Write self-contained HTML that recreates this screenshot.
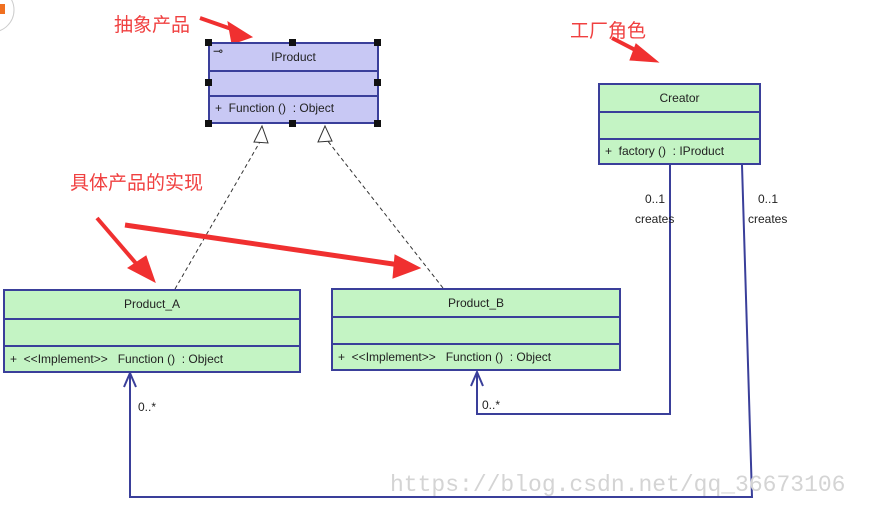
<!DOCTYPE html>
<html><head><meta charset="utf-8"><style>
body{margin:0;background:#fff;width:875px;height:513px;overflow:hidden;position:relative;font-family:"Liberation Sans",sans-serif}
.b{position:absolute;border:2px solid #3a3f9a;box-sizing:border-box;font-size:12px;color:#222}
.b div{box-sizing:border-box;border-bottom:2px solid #3a3f9a}
.b div:last-child{border-bottom:none}
.cn{position:absolute;font-family:"Liberation Sans","Noto Sans CJK SC",sans-serif;color:#f04040;font-size:19px}
.t{position:absolute;font-size:12px;color:#222}
.h{position:absolute;width:7px;height:7px;background:#111}
</style></head><body>
<svg width="875" height="513" style="position:absolute;left:0;top:0">
<circle cx="-8" cy="10" r="22" fill="#fff" stroke="#ccc"/>
<rect x="0" y="4" width="5" height="10" fill="#f07020"/>
<g stroke="#333" stroke-dasharray="4,3" fill="none">
<line x1="175" y1="289" x2="261" y2="140"/>
<line x1="443" y1="288" x2="327" y2="140"/>
</g>
<polygon points="262,126 254,142 268,143" fill="#fff" stroke="#333"/>
<polygon points="325,126 318,142 332,141" fill="#fff" stroke="#333"/>
<g stroke="#3a3f9a" stroke-width="2" fill="none">
<polyline points="670,165 670,414 477,414 477,372"/>
<polyline points="471,386 477,372 483,386"/>
<polyline points="742,165 752,497 130,497 130,373"/>
<polyline points="124,387 130,373 136,387"/>
</g>
<g fill="#f03030" stroke="#f03030">
<polyline points="200,18 240,32" stroke-width="4"/><polygon points="252,37 228,22 232,44"/>
<polyline points="612,38 645,55" stroke-width="4"/><polygon points="658,62 636,44 630,60"/>
<polyline points="97,218 140,268" stroke-width="4"/><polygon points="155,282 128,268 146,256"/>
<polyline points="125,225 400,265" stroke-width="5"/><polygon points="420,268 395,255 393,278"/>
</g>
</svg>
<div class="cn" style="left:114px;top:10px">抽象产品</div>
<div class="cn" style="left:570px;top:16px">工厂角色</div>
<div class="cn" style="left:70px;top:168px">具体产品的实现</div>
<div class="b" style="left:208px;top:42px;width:171px;height:82px;background:#c8c8f4">
<div style="height:28px;text-align:center;line-height:26px">IProduct</div><div style="height:25px"></div><div style="height:25px;line-height:23px;padding-left:5px">+ &nbsp;Function () &nbsp;: Object</div></div>
<div class="t" style="left:213px;top:44px">⊸</div>
<div class="h" style="left:205px;top:39px"></div><div class="h" style="left:289px;top:39px"></div><div class="h" style="left:374px;top:39px"></div>
<div class="h" style="left:205px;top:79px"></div><div class="h" style="left:374px;top:79px"></div>
<div class="h" style="left:205px;top:120px"></div><div class="h" style="left:289px;top:120px"></div><div class="h" style="left:374px;top:120px"></div>
<div class="b" style="left:598px;top:83px;width:163px;height:82px;background:#c4f4c4">
<div style="height:28px;text-align:center;line-height:26px">Creator</div><div style="height:27px"></div><div style="height:25px;line-height:23px;padding-left:5px">+ &nbsp;factory () &nbsp;: IProduct</div></div>
<div class="b" style="left:3px;top:289px;width:298px;height:84px;background:#c4f4c4">
<div style="height:29px;text-align:center;line-height:27px">Product_A</div><div style="height:27px"></div><div style="height:26px;line-height:24px;padding-left:5px">+ &nbsp;&lt;&lt;Implement&gt;&gt; &nbsp;&nbsp;Function () &nbsp;: Object</div></div>
<div class="b" style="left:331px;top:288px;width:290px;height:83px;background:#c4f4c4">
<div style="height:28px;text-align:center;line-height:26px">Product_B</div><div style="height:27px"></div><div style="height:26px;line-height:24px;padding-left:5px">+ &nbsp;&lt;&lt;Implement&gt;&gt; &nbsp;&nbsp;Function () &nbsp;: Object</div></div>
<div class="t" style="left:645px;top:192px">0..1</div><div class="t" style="left:635px;top:212px">creates</div>
<div class="t" style="left:758px;top:192px">0..1</div><div class="t" style="left:748px;top:212px">creates</div>
<div class="t" style="left:138px;top:400px">0..*</div>
<div class="t" style="left:482px;top:398px">0..*</div>
<div style="position:absolute;left:390px;top:472px;font-family:'Liberation Mono',monospace;font-size:23px;color:#d4d4d4">https://blog.csdn.net/qq_36673106</div>
</body></html>
